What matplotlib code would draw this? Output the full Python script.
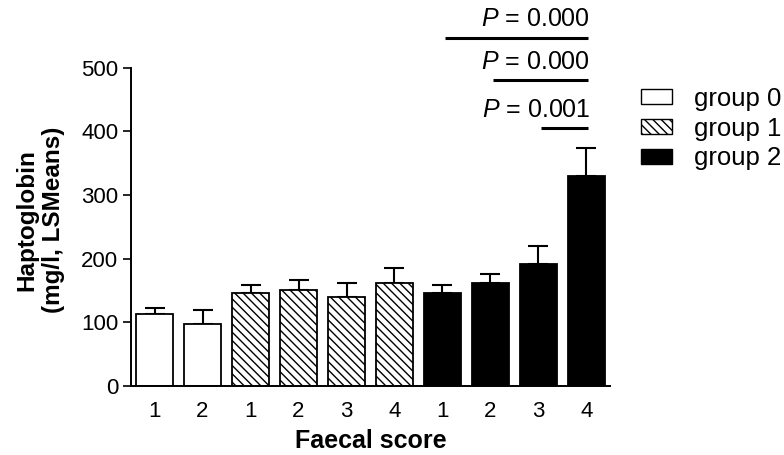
import matplotlib
matplotlib.use("Agg")
import matplotlib.pyplot as plt
from matplotlib.patches import Patch

plt.rcParams['font.family'] = ['Liberation Sans', 'DejaVu Sans']
plt.rcParams['mathtext.fontset'] = 'custom'
plt.rcParams['mathtext.it'] = 'Liberation Sans:italic'
plt.rcParams['mathtext.rm'] = 'Liberation Sans'
plt.rcParams['hatch.linewidth'] = 1.0

# Data
tick_labels = ['1', '2', '1', '2', '3', '4', '1', '2', '3', '4']
groups = [0, 0, 1, 1, 1, 1, 2, 2, 2, 2]
values = [113, 98, 146, 151, 140, 161, 146, 162, 192, 329]
upper_err = [9, 22, 12, 15, 21, 24, 12, 14, 27, 44]
group_names = ['group 0', 'group 1', 'group 2']
comparisons = [(6, 9, 'P = 0.000', 547), (7, 9, 'P = 0.000', 480), (8, 9, 'P = 0.001', 405)]
y_ticks = [0, 100, 200, 300, 400, 500]

styles = {
    0: dict(facecolor='white', hatch=None),
    1: dict(facecolor='white', hatch='\\\\\\\\'),
    2: dict(facecolor='black', hatch=None),
}

fig = plt.figure(figsize=(7.84, 4.55), dpi=100)
ax = fig.add_axes([131/784, 1-386/455, (610-131)/784, (386-67.5)/455])

x = list(range(len(values)))
for xi, v, g in zip(x, values, groups):
    st = styles[g]
    ax.bar(xi, v, width=0.77, facecolor=st['facecolor'], edgecolor='black',
           hatch=st['hatch'], linewidth=1.3, zorder=2)
ax.errorbar(x, values, yerr=[[0]*len(values), upper_err], fmt='none',
            ecolor='black', elinewidth=1.5, capsize=7, capthick=1.5, zorder=1)

ax.set_xlim(-0.49, 9.49)
ax.set_ylim(0, 500)
ax.set_yticks(y_ticks)
ax.set_xticks(x)
ax.set_xticklabels(tick_labels)
ax.tick_params(axis='y', length=6, width=1.2, labelsize=16, pad=3)
ax.tick_params(axis='x', length=0, labelsize=16, pad=11)
for s in ['top', 'right']:
    ax.spines[s].set_visible(False)
for s in ['left', 'bottom']:
    ax.spines[s].set_linewidth(1.4)

ax.set_xlabel('Faecal score', fontsize=18, fontweight='bold', labelpad=5)
fig.text(40/784, 1-220/455, 'Haptoglobin\n(mg/l, LSMeans)', rotation=90,
         ha='center', va='center', multialignment='center',
         fontsize=17.5, fontweight='bold')

for a, b, txt, yl in comparisons:
    ax.plot([a + 0.05, b + 0.04], [yl, yl], color='black', lw=2.2,
            clip_on=False, solid_capstyle='butt')
    label = txt.replace('P', '$P$', 1)
    ax.text(b + 0.08, yl + 29, label, ha='right', va='center',
            fontsize=18, clip_on=False)

handles = [Patch(facecolor=styles[g]['facecolor'], edgecolor='black',
                 hatch=styles[g]['hatch'], linewidth=1.0) for g in range(3)]
leg = fig.legend(handles, group_names, loc='upper left',
                 bbox_to_anchor=(641/784, 1-87/455), frameon=False,
                 fontsize=18.5, handlelength=1.22, handleheight=0.52,
                 handletextpad=0.85, labelspacing=0.22, borderpad=0, borderaxespad=0)

fig.savefig('out.png', dpi=100)
